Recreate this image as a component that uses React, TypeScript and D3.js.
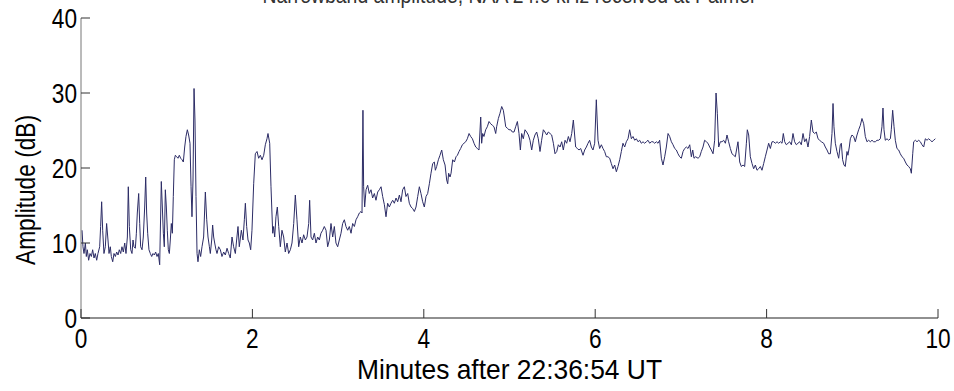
import React from 'react';
import * as d3 from 'd3';

// minutes after 22:36:54 UT, amplitude in dB
const times0 = [0.012,0.023,0.035,0.051,0.062,0.074,0.089,0.105,0.121,0.136,0.152,0.167,0.183,0.198,0.218,0.229,0.241,0.253,0.268,0.284,0.299,0.315,0.327,0.342,0.354,0.370,0.385,0.401,0.416,0.432,0.447,0.463,0.478,0.494,0.510,0.525,0.541,0.552,0.564,0.580,0.595,0.607,0.618,0.634,0.646,0.657,0.673,0.685,0.696,0.712,0.727,0.743,0.755,0.766,0.778,0.793,0.809,0.825,0.840,0.856,0.871,0.887,0.902,0.918,0.930,0.937,0.949,0.961,0.972,0.984,0.996,1.007,1.019,1.031,1.042,1.054,1.066,1.077,1.089,1.101,1.116,1.132,1.147,1.163,1.179,1.194,1.210,1.225,1.241,1.256,1.272,1.284,1.295,1.307,1.319,1.330,1.342,1.354,1.365,1.381,1.396,1.412];
const amps0 = [11.7,9.5,8.6,10.0,8.2,9.1,7.7,8.6,8.2,9.1,8.0,8.6,7.7,8.6,9.5,12.2,15.5,11.7,8.6,9.5,12.6,10.4,8.6,9.5,8.2,7.5,8.6,8.2,8.8,8.4,9.1,8.6,9.5,8.8,10.0,8.6,10.8,17.5,12.2,9.1,8.6,10.4,9.5,9.3,11.3,14.0,16.6,12.6,9.5,9.1,10.8,14.8,18.8,14.0,11.3,9.1,8.6,8.2,8.6,8.4,8.8,8.2,8.6,7.1,14.0,18.2,14.8,11.3,9.5,17.1,14.8,11.7,9.1,8.6,10.4,12.6,11.3,16.2,21.1,21.7,21.5,21.3,21.7,21.3,21.1,20.8,22.8,24.2,25.1,24.4,23.3,17.5,13.5,18.4,30.6,26.4,16.2,8.6,7.5,9.1,8.2,9.5];

const times1 = [1.431,1.451,1.467,1.482,1.498,1.509,1.525,1.536,1.548,1.560,1.575,1.587,1.606,1.626,1.645,1.665,1.684,1.704,1.723,1.742,1.762,1.781,1.801,1.816,1.832,1.847,1.871,1.890,1.906,1.918,1.933,1.949,1.964,1.980,1.995,2.015,2.034,2.054,2.073,2.093,2.112,2.132,2.151,2.170,2.182,2.202,2.217,2.237,2.248,2.260,2.275,2.291,2.307,2.326,2.345,2.365,2.384,2.404,2.423,2.443,2.462,2.482,2.501,2.520,2.540,2.559,2.579,2.598,2.618,2.637,2.657,2.668,2.684,2.703,2.723,2.742,2.762,2.781,2.800,2.820,2.839,2.859];
const amps1 = [10.8,16.8,13.1,10.8,9.5,8.6,10.4,12.4,10.8,10.0,9.1,8.6,9.5,9.1,8.2,8.8,8.4,9.3,8.6,8.0,10.8,9.5,8.6,10.4,12.2,9.5,11.7,10.4,13.1,15.3,12.2,10.4,10.0,9.1,11.7,17.9,21.9,22.2,21.3,21.7,21.1,21.7,23.1,23.9,24.6,23.3,17.5,11.3,12.2,10.8,13.5,14.8,12.2,9.5,11.7,10.8,8.8,10.0,8.6,9.1,10.0,12.6,16.4,13.1,9.5,10.8,10.0,11.1,10.4,10.8,12.6,15.7,10.8,10.4,11.3,10.0,10.8,10.4,11.3,11.7,12.2,11.7];

const times2 = [2.878,2.898,2.917,2.937,2.956,2.975,2.995,3.014,3.034,3.053,3.073,3.092,3.112,3.131,3.151,3.170,3.190,3.209,3.228,3.248,3.267,3.279,3.290,3.298,3.310,3.326,3.345,3.364,3.384,3.403,3.423,3.442,3.462,3.481,3.501,3.520,3.540,3.559,3.578,3.598,3.617,3.637,3.656,3.676,3.695,3.715,3.734,3.753,3.773,3.792,3.812,3.831,3.851,3.870,3.890,3.909,3.929,3.948,3.967,3.987,4.006,4.026,4.045,4.065,4.084,4.104,4.123,4.135,4.150,4.170,4.189,4.209,4.228,4.248,4.267,4.279,4.290,4.306];
const amps2 = [9.5,10.4,12.6,10.8,12.2,10.0,9.5,10.4,11.3,12.6,13.1,12.2,11.7,12.2,11.3,12.6,12.2,13.1,13.5,14.0,14.2,14.0,27.7,17.5,14.8,17.1,17.7,16.6,17.1,16.0,16.6,15.7,16.8,17.1,17.5,16.2,15.1,13.5,15.3,14.8,15.3,15.7,15.3,16.0,15.5,16.4,15.5,17.1,17.5,16.2,16.6,15.3,14.8,14.6,14.2,14.8,16.2,17.5,16.6,15.5,14.8,16.2,16.6,17.9,19.3,20.6,20.8,19.7,20.2,21.1,21.7,22.4,21.1,20.4,18.4,17.9,19.3,18.8];

const times3 = [4.318,4.337,4.357,4.376,4.392,4.411,4.430,4.450,4.469,4.489,4.508,4.528,4.547,4.567,4.586,4.606,4.625,4.644,4.664,4.675,4.687,4.702,4.722,4.741,4.761,4.780,4.800,4.819,4.839,4.850,4.870,4.889,4.909,4.928,4.940,4.956,4.975,4.994,5.014,5.033,5.053,5.072,5.092,5.111,5.127,5.142,5.161,5.181,5.200,5.220,5.239,5.259,5.278,5.297,5.317,5.336,5.356,5.375,5.395,5.414,5.434,5.453,5.473,5.492,5.512,5.531,5.551,5.570,5.590,5.609,5.628,5.648,5.667,5.687,5.706,5.726,5.745];
const amps3 = [19.3,21.1,20.8,21.5,21.7,22.2,22.6,23.1,23.3,23.5,23.9,24.6,24.2,23.9,23.3,22.8,22.6,22.4,26.8,23.3,24.6,24.2,25.1,25.5,26.2,25.9,25.7,25.5,24.6,25.5,26.6,27.3,28.2,27.7,26.8,25.5,25.3,25.1,25.1,24.8,24.8,25.5,26.2,24.6,22.4,24.6,23.9,25.1,24.8,24.4,23.7,22.4,23.7,24.4,24.8,23.9,22.2,23.7,25.1,24.8,24.4,24.8,24.6,24.4,23.3,21.9,22.2,23.1,22.8,23.5,22.4,23.7,23.3,24.2,23.5,24.6,26.4];

const times4 = [5.772,5.792,5.811,5.831,5.858,5.877,5.897,5.916,5.935,5.955,5.974,5.994,6.013,6.033,6.052,6.072,6.091,6.110,6.130,6.149,6.169,6.188,6.208,6.227,6.247,6.266,6.286,6.305,6.324,6.344,6.363,6.383,6.402,6.422,6.441,6.461,6.480,6.500,6.519,6.538,6.558,6.577,6.597,6.616,6.636,6.655,6.675,6.694,6.714,6.733,6.752,6.772,6.791,6.811,6.830,6.850,6.869,6.889,6.908,6.928,6.947,6.966,6.986,7.005,7.025,7.044,7.064,7.083,7.103,7.122,7.138,7.153,7.172,7.200];
const amps4 = [22.8,22.6,22.4,22.6,21.7,22.4,22.8,23.3,23.7,22.8,22.4,23.3,29.1,23.7,22.6,23.1,22.6,22.2,21.5,21.5,21.3,20.6,19.9,20.4,19.5,20.2,21.1,22.2,23.3,22.8,23.5,23.9,25.1,23.9,24.2,23.7,23.9,23.5,23.7,23.3,23.5,23.3,23.5,23.7,23.3,23.5,23.5,23.3,23.5,23.3,23.7,21.3,20.4,21.5,22.8,24.6,24.2,23.5,23.1,22.6,22.4,21.9,21.5,21.3,22.2,22.6,22.8,22.6,23.1,21.5,22.4,21.3,21.5,21.3];

const times5 = [7.219,7.238,7.258,7.277,7.297,7.316,7.336,7.355,7.375,7.394,7.410,7.425,7.441,7.460,7.480,7.499,7.519,7.538,7.557,7.577,7.596,7.616,7.635,7.655,7.666,7.686,7.705,7.725,7.744,7.764,7.775,7.791,7.810,7.830,7.849,7.869,7.888,7.907,7.927,7.946,7.966,7.985,8.005,8.024,8.044,8.063,8.083,8.102,8.122,8.141,8.161,8.180,8.195,8.211,8.230,8.250,8.269,8.289,8.308,8.327,8.347,8.366,8.386,8.405,8.425,8.444,8.463,8.483,8.502,8.522,8.541,8.561,8.580,8.600,8.619,8.639];
const amps5 = [21.5,22.2,22.8,23.7,23.5,23.3,22.8,22.4,21.9,23.7,30.0,27.3,22.8,23.5,23.5,23.7,23.3,24.4,23.5,22.6,21.9,21.7,21.5,22.8,23.5,20.8,20.2,20.4,20.2,23.3,25.1,24.4,21.5,20.6,19.9,20.4,19.7,19.9,20.2,19.7,20.6,21.5,22.4,23.3,22.6,23.5,23.5,23.3,23.5,23.3,23.5,23.3,24.6,23.5,23.1,23.3,23.5,23.1,24.6,23.5,23.1,23.3,23.5,23.1,24.6,23.5,23.9,22.8,24.2,26.4,24.8,24.6,24.8,23.9,23.7,23.5];

const times6 = [8.666,8.685,8.705,8.724,8.744,8.763,8.775,8.786,8.802,8.821,8.841,8.860,8.872,8.887,8.903,8.918,8.938,8.949,8.965,8.977,8.996,9.016,9.035,9.055,9.074,9.094,9.113,9.133,9.152,9.171,9.191,9.210,9.230,9.249,9.269,9.288,9.308,9.327,9.346,9.358,9.370,9.385,9.405,9.424,9.444,9.455,9.471,9.487,9.502,9.521,9.541,9.560,9.580,9.599,9.619,9.638,9.658,9.677,9.689,9.705,9.716,9.736,9.755,9.775,9.794,9.813,9.833,9.852,9.872,9.891,9.911,9.930,9.950,9.969];
const amps6 = [23.3,22.8,22.4,21.9,21.9,24.6,28.6,25.5,23.3,22.2,21.3,23.1,23.3,21.1,20.4,20.2,22.2,21.7,22.8,23.9,24.4,24.2,23.5,24.4,25.1,25.7,26.6,25.9,24.2,23.5,23.7,23.5,23.7,23.5,23.5,23.7,23.7,23.9,25.5,28.0,25.1,23.7,23.9,23.7,23.9,25.1,27.7,25.5,23.7,22.6,22.4,21.9,21.5,21.3,20.8,20.4,20.2,19.9,19.3,21.9,23.5,23.7,23.5,23.7,23.5,23.1,22.8,23.9,23.7,23.9,23.7,23.5,23.7,23.9];

const minutes = [...times0, ...times1, ...times2, ...times3, ...times4, ...times5, ...times6];
const amplitude = [...amps0, ...amps1, ...amps2, ...amps3, ...amps4, ...amps5, ...amps6];

const xTicks = [0, 2, 4, 6, 8, 10];
const yTicks = [0, 10, 20, 30, 40];
const xLabel = 'Minutes after 22:36:54 UT';
const yLabel = 'Amplitude (dB)';
const title = 'Narrowband amplitude, NAA 24.0 kHz received at Palmer';

const W = 954;
const H = 391;
const FONT = "'Liberation Sans Narrow', 'Arial Narrow', 'Liberation Sans', Arial, sans-serif";
const SQ = 0.84; // the figure uses a condensed face, squeeze glyphs horizontally

export default function App() {
  const margin = { top: 18, right: 16, bottom: 73, left: 81 };
  const x = d3.scaleLinear().domain([0, 10]).range([margin.left, W - margin.right]);
  const y = d3.scaleLinear().domain([0, 40]).range([H - margin.bottom, margin.top]);

  const pts: [number, number][] = minutes.map((t, i) => [t, amplitude[i]]);
  const line = d3.line<[number, number]>()
    .x(d => x(d[0]))
    .y(d => y(d[1]));

  const tickLen = 9;
  const cx = (x(0) + x(10)) / 2;

  return (
    <svg width={W} height={H} style={{ position: 'absolute', left: 0, top: 0, background: '#fff' }}
      fontFamily={FONT}>
      {/* title, clipped at the top edge as in the source figure */}
      <text x={cx} y={3} textAnchor="middle" fontSize={22} fill="#333"
        textLength={494} lengthAdjust="spacingAndGlyphs">{title}</text>

      <path d={line(pts) || ''} fill="none" stroke="#2c2c66" strokeWidth={1} />

      {/* y axis */}
      <line x1={x(0)} x2={x(0)} y1={y(0)} y2={y(40)} stroke="#777" strokeWidth={1} />
      {yTicks.map(t => (
        <g key={'y' + t}>
          <line x1={x(0)} x2={x(0) + tickLen} y1={y(t)} y2={y(t)} stroke="#333" />
          <text transform={`translate(${x(0) - 4},${y(t) + 10}) scale(${SQ},1)`} textAnchor="end"
            fontSize={27} fill="#000">{t}</text>
        </g>
      ))}

      {/* x axis */}
      <line x1={x(0)} x2={x(10)} y1={y(0)} y2={y(0)} stroke="#222" strokeWidth={1.2} />
      {xTicks.map(t => (
        <g key={'x' + t}>
          <line x1={x(t)} x2={x(t)} y1={y(0)} y2={y(0) - tickLen} stroke="#333" />
          <text transform={`translate(${x(t)},${y(0) + 30}) scale(${SQ},1)`} textAnchor="middle"
            fontSize={27} fill="#000">{t}</text>
        </g>
      ))}

      <text x={cx} y={y(0) + 61} textAnchor="middle" fontSize={28} fill="#000"
        textLength={305} lengthAdjust="spacingAndGlyphs">{xLabel}</text>
      <text transform={`translate(35,${(y(0) + y(40)) / 2 + 22}) rotate(-90)`} textAnchor="middle"
        fontSize={28} fill="#000" textLength={150} lengthAdjust="spacingAndGlyphs">{yLabel}</text>
    </svg>
  );
}
